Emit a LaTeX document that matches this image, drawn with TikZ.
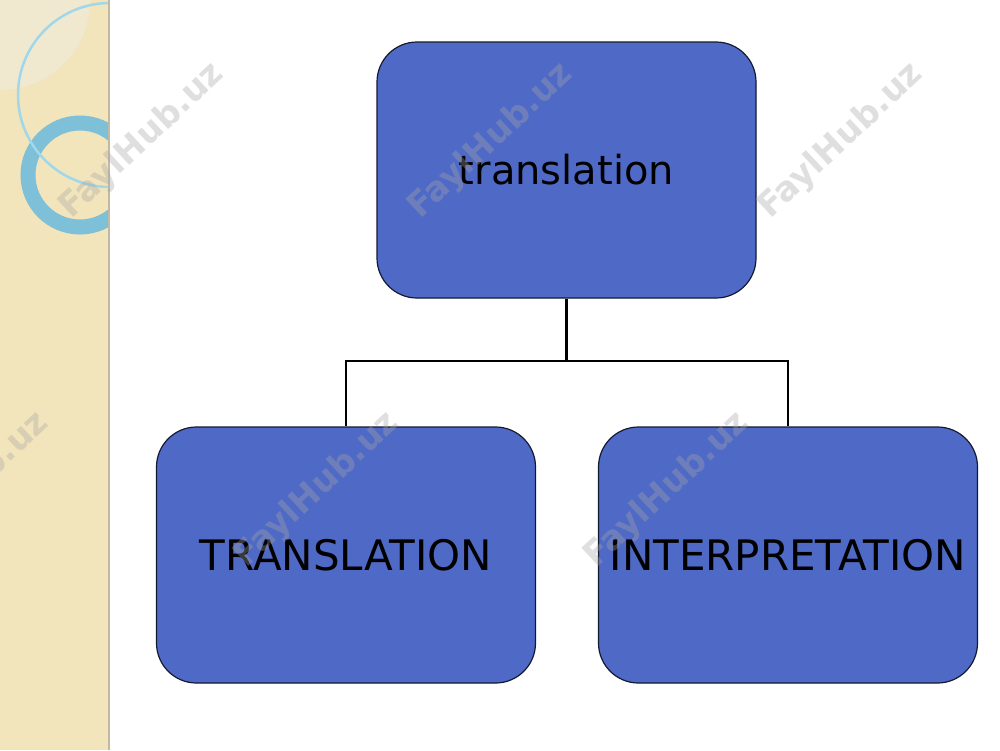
\documentclass[tikz,border=0pt]{standalone}
\usepackage{fontspec}
\newfontfamily\dv{DejaVu Sans}
\newfontfamily\wmfont{DejaVu Sans Bold}
\definecolor{boxblue}{RGB}{79,106,198}
\definecolor{boxedge}{RGB}{20,25,50}
\definecolor{stripbeige}{RGB}{243,229,187}
\definecolor{panellight}{RGB}{240,233,208}
\definecolor{ringblue}{RGB}{125,192,215}
\definecolor{thinblue}{RGB}{160,215,235}
\definecolor{stripedge}{RGB}{195,185,160}
\definecolor{wmgray}{RGB}{165,165,165}
\tikzset{
  termbox/.style={draw=boxedge, line width=1.2pt, fill=boxblue, rounded corners=40pt,
    minimum width=379pt, minimum height=256pt, inner sep=0pt,
    font=\dv\fontsize{40}{48}\selectfont, text=black},
  capsbox/.style={termbox, font=\dv\fontsize{42}{50}\selectfont},
  link/.style={draw=black, line width=2.5pt},
  watermark/.style={rotate=43, text=wmgray, opacity=0.35,
    font=\wmfont\fontsize{34}{40}\selectfont}
}
\begin{document}
\begin{tikzpicture}[x=1pt,y=-1pt]
\useasboundingbox (0,0) rectangle (1000,750);
\fill[white] (0,0) rectangle (1000,750);
% left decorative strip
\fill[stripbeige] (0,0) rectangle (109,750);
\begin{scope}
  \clip (0,0) rectangle (109,750);
  \fill[panellight] (0,0) -- (90,0) arc[start angle=0, end angle=90, radius=90] -- cycle;
  \draw[ringblue, line width=15pt] (80,175) circle[radius=52];
  \draw[thinblue, line width=2.5pt] (110,95) circle[radius=92];
\end{scope}
\draw[stripedge, line width=2pt] (109,0) -- (109,750);
% boxes
\node[termbox] (top) at (566.5,170) {translation};
\node[capsbox] (L) at (346,555) {TRANSLATION};
\node[capsbox] (R) at (788,555) {INTERPRETATION};
\coordinate (j) at (566.5,361);
\draw[link] (top.south) -- (j) -| (L.north);
\draw[link] (j) -| (R.north);
% watermarks
\foreach \p in {(142,141),(491,141),(841,141),(-33,490),(317,490),(667,490)}
  \node[watermark] at \p {FaylHub.uz};
\end{tikzpicture}
\end{document}
